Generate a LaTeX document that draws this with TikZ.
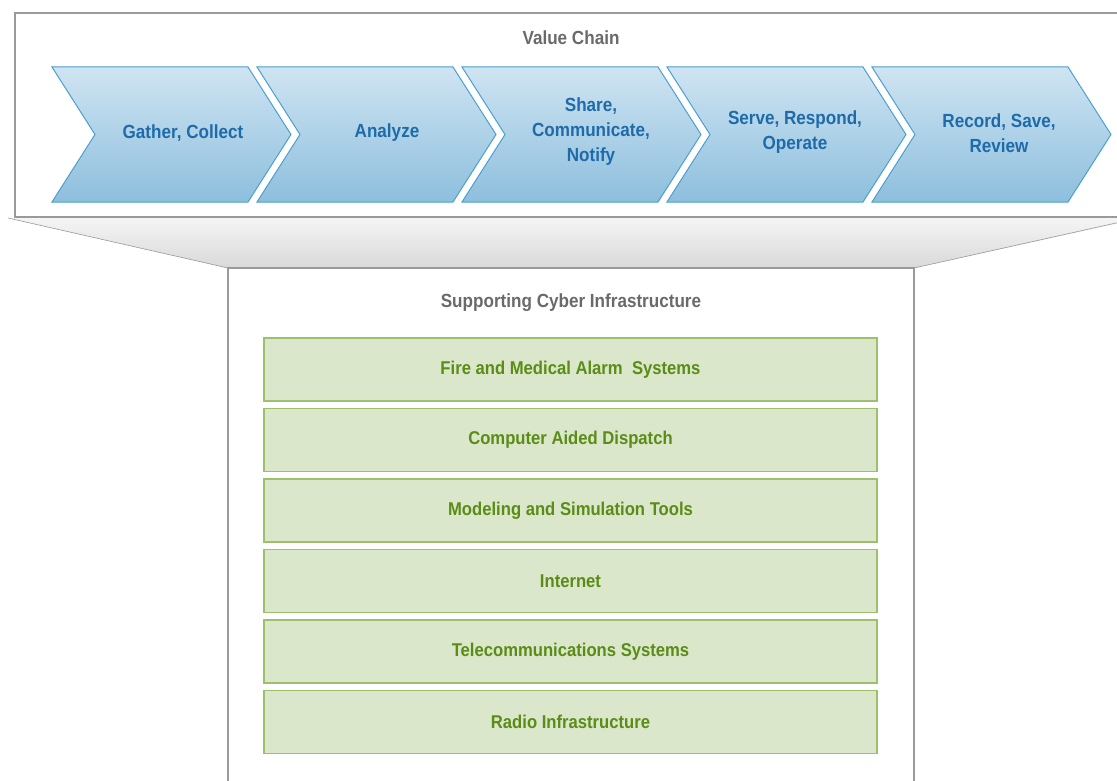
\documentclass[tikz,border=0pt]{standalone}
\usepackage{fontspec}
\setmainfont{Liberation Sans}[FakeStretch=0.9]
\usepackage{tikz}

\definecolor{chainText}{HTML}{1F6BAA}
\definecolor{chainTop}{HTML}{CFE4F2}
\definecolor{chainBottom}{HTML}{8DBFDD}
\definecolor{chainLine}{HTML}{4C9FCF}
\definecolor{infraText}{HTML}{5A8C16}
\definecolor{infraFill}{HTML}{DAE7CB}
\definecolor{infraLine}{HTML}{9CC06B}
\definecolor{frameLine}{HTML}{9A9A9A}
\definecolor{titleGray}{HTML}{6A6A6A}

\tikzset{
  chain/.style={draw=chainLine, line width=1pt, top color=chainTop, bottom color=chainBottom},
  chainlabel/.style={text=chainText, font=\bfseries\fontsize{19}{25}\selectfont, align=center},
  infra/.style={draw=infraLine, line width=1.2pt, fill=infraFill, minimum width=613pt, minimum height=63pt,
    text=infraText, font=\bfseries\fontsize{18.5}{20}\selectfont},
  paneltitle/.style={text=titleGray, font=\bfseries\fontsize{19}{22}\selectfont}
}

\begin{document}
\begin{tikzpicture}[x=1pt, y=-1pt]
    \useasboundingbox (0,0) rectangle (1117,781);
    % funnel between the two panels
    \shade[top color=white!96!black, bottom color=white!85!black] (8,218) -- (1125,218) -- (1125,222) -- (914,268) -- (228,268) -- cycle;
    \draw[frameLine, line width=0.6pt] (8,218) -- (228,268);
    \draw[frameLine, line width=0.6pt] (1125,221) -- (914,268);
    % value chain panel
    \draw[frameLine, line width=1.5pt, fill=white] (15,13) rectangle (1130,217);
    \node[paneltitle] (valuechain) at (571,38) {Value Chain};
    \foreach \x in {52,257,462,667,872}
        \draw[chain] (\x,67) -- ({\x+196},67) -- ({\x+239},134.5) -- ({\x+196},202) -- (\x,202) -- ({\x+43},134.5) -- cycle;
    \node[chainlabel] (gather) at (183,133) {Gather, Collect};
    \node[chainlabel] (analyze) at (387,133) {Analyze};
    \node[chainlabel] (share) at (591,132) {Share,\\Communicate,\\Notify};
    \node[chainlabel] (serve) at (795,132) {Serve, Respond,\\Operate};
    \node[chainlabel] (record) at (999,133) {Record, Save,\\Review};
    % supporting infrastructure panel
    \draw[frameLine, line width=1.5pt, fill=white] (228,268) rectangle (914,800);
    \node[paneltitle] (support) at (571,303) {Supporting Cyber Infrastructure};
    \node[infra] (fire) at (570.5,369.5) {Fire and Medical Alarm\ \ Systems};
    \node[infra] (cad) at (570.5,440) {Computer Aided\ Dispatch};
    \node[infra] (modeling) at (570.5,510.5) {Modeling and Simulation Tools};
    \node[infra] (internet) at (570.5,581) {Internet};
    \node[infra] (telecom) at (570.5,651.5) {Telecommunications Systems};
    \node[infra] (radio) at (570.5,722) {Radio Infrastructure};
\end{tikzpicture}
\end{document}
